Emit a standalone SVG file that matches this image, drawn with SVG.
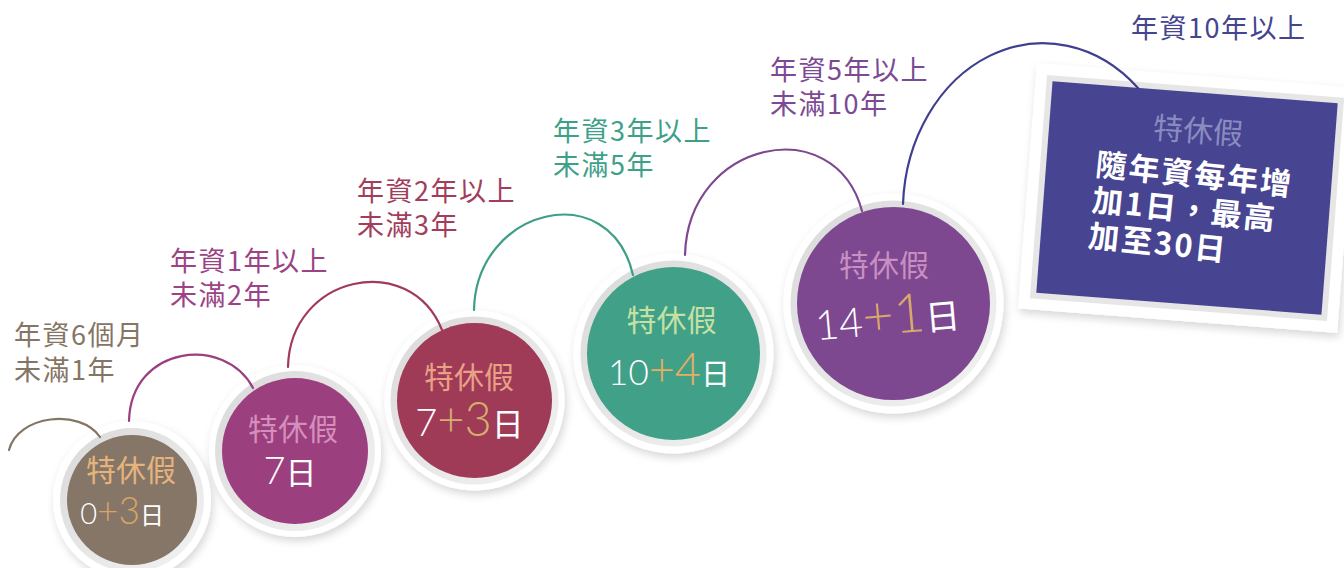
<svg xmlns="http://www.w3.org/2000/svg" width="1344" height="568" viewBox="0 0 1344 568">
<defs>
<filter id="sh" x="-30%" y="-30%" width="160%" height="160%">
<feDropShadow dx="2" dy="4" stdDeviation="4" flood-color="#000" flood-opacity="0.16"/>
</filter>
<linearGradient id="ring" x1="0" y1="0" x2="1" y2="1">
<stop offset="0" stop-color="#d9d9d9"/>
<stop offset="1" stop-color="#f3f3f3"/>
</linearGradient>
<style>
.cjk{font-family:"Noto Sans CJK TC","Noto Sans CJK SC",sans-serif;}
.lbl{font-family:"Noto Sans CJK TC","Noto Sans CJK SC",sans-serif;font-size:27px;letter-spacing:1.5px;}
.ttl{font-family:"Noto Sans CJK TC","Noto Sans CJK SC",sans-serif;font-size:30px;text-anchor:middle;}
.num{font-family:"Lato","Liberation Sans",sans-serif;font-weight:300;fill:#ffffff;text-anchor:middle;}
.ri{font-family:"Noto Sans CJK TC","Noto Sans CJK SC",sans-serif;font-weight:400;fill:#ffffff;}
.outer{fill:#ffffff;filter:url(#sh);}
.ringc{fill:url(#ring);}
.arc{fill:none;stroke-width:2.2;stroke-linecap:round;}
</style>
</defs>
<rect width="1344" height="568" fill="#ffffff"/>

<g id="node-1">
<circle class="outer" cx="132" cy="500" r="79"/>
<circle class="ringc" cx="132" cy="500" r="72"/>
<circle cx="132" cy="500" r="65" fill="#857668"/>
<text class="ttl" x="131" y="481" fill="#e6b37c">特休假</text>
<text class="num" x="122" y="524"><tspan font-size="29">0</tspan><tspan font-size="37" fill="#d9a466">+3</tspan><tspan class="ri" font-size="24">日</tspan></text>
<text class="lbl" fill="#857565"><tspan x="14" y="345">年資6個月</tspan><tspan x="14" y="380">未滿1年</tspan></text>
</g>

<g id="node-2">
<circle class="outer" cx="295" cy="451" r="86"/>
<circle class="ringc" cx="295" cy="451" r="80"/>
<circle cx="295" cy="451" r="73" fill="#9c3f7e"/>
<text class="ttl" x="293" y="440" fill="#d48fbd">特休假</text>
<text class="num" x="290" y="484"><tspan font-size="38">7</tspan><tspan class="ri" font-size="31">日</tspan></text>
<text class="lbl" fill="#9b4384"><tspan x="170" y="271">年資1年以上</tspan><tspan x="170" y="305">未滿2年</tspan></text>
</g>

<g id="node-3">
<circle class="outer" cx="474.5" cy="400.5" r="90"/>
<circle class="ringc" cx="474.5" cy="400.5" r="84"/>
<circle cx="474.5" cy="400.5" r="77.5" fill="#9f3a57"/>
<text class="ttl" x="469" y="388" fill="#e8a086">特休假</text>
<text class="num" x="469.5" y="436"><tspan font-size="38">7</tspan><tspan font-size="47" fill="#d6ae6e">+3</tspan><tspan class="ri" font-size="32">日</tspan></text>
<text class="lbl" fill="#a23d5c"><tspan x="357" y="201">年資2年以上</tspan><tspan x="357" y="235">未滿3年</tspan></text>
</g>

<g id="node-4">
<circle class="outer" cx="673.5" cy="353.5" r="100"/>
<circle class="ringc" cx="673.5" cy="353.5" r="93"/>
<circle cx="673.5" cy="353.5" r="86.5" fill="#41a088"/>
<text class="ttl" x="671.5" y="331" fill="#c6e0a4">特休假</text>
<text class="num" x="669" y="385"><tspan font-size="35">10</tspan><tspan font-size="45" fill="#e7ae5e">+4</tspan><tspan class="ri" font-size="29">日</tspan></text>
<text class="lbl" fill="#3fa08a"><tspan x="553" y="141">年資3年以上</tspan><tspan x="553" y="175">未滿5年</tspan></text>
</g>

<g id="node-5">
<circle class="outer" cx="893.5" cy="303.5" r="110"/>
<circle class="ringc" cx="893.5" cy="303.5" r="103"/>
<circle cx="893.5" cy="303.5" r="96.5" fill="#7e4891"/>
<text class="ttl" x="884" y="276" fill="#c98fc2">特休假</text>
<text class="num" x="887.5" y="334" transform="rotate(-5 887.5 318)"><tspan font-size="41">14</tspan><tspan font-size="54" fill="#d9a86a">+1</tspan><tspan class="ri" font-size="35">日</tspan></text>
<text class="lbl" fill="#7c4a94"><tspan x="770" y="80">年資5年以上</tspan><tspan x="770" y="114">未滿10年</tspan></text>
</g>

<g id="node-6">
<g transform="translate(1187,198) rotate(4.4)">
<rect x="-160" y="-123" width="320" height="246" fill="#ffffff" filter="url(#sh)"/>
<rect x="-149" y="-112" width="298" height="224" fill="#e6e6e6"/>
<rect x="-143" y="-106" width="286" height="212" fill="#474491"/>
<text class="ttl" x="6" y="-57" fill="#8a8cc0">特休假</text>
<g transform="rotate(1.6)">
<text class="cjk" font-size="31" font-weight="700" letter-spacing="2" fill="#ffffff"><tspan x="-94" y="-13">隨年資每年增</tspan><tspan x="-94" y="23">加1日，最高</tspan><tspan x="-94" y="59">加至30日</tspan></text>
</g>
</g>
<text class="lbl" fill="#44448f" x="1131" y="38">年資10年以上</text>
</g>

<g id="connectors">
<path class="arc" stroke="#857565" d="M9,450 C18,415 80,408 100,437"/>
<path class="arc" stroke="#9b3f7f" d="M129,421 C131,345 225,335 253,388"/>
<path class="arc" stroke="#a0395a" d="M288,367 C290,275 410,250 442,330"/>
<path class="arc" stroke="#3f9e88" d="M474,310 C476,208 610,175 633,275"/>
<path class="arc" stroke="#7d4890" d="M685,255 C688,140 835,110 862,211"/>
<path class="arc" stroke="#3f3f90" d="M903,204 A140,168 0 0,1 1138,88"/>
</g>
</svg>
